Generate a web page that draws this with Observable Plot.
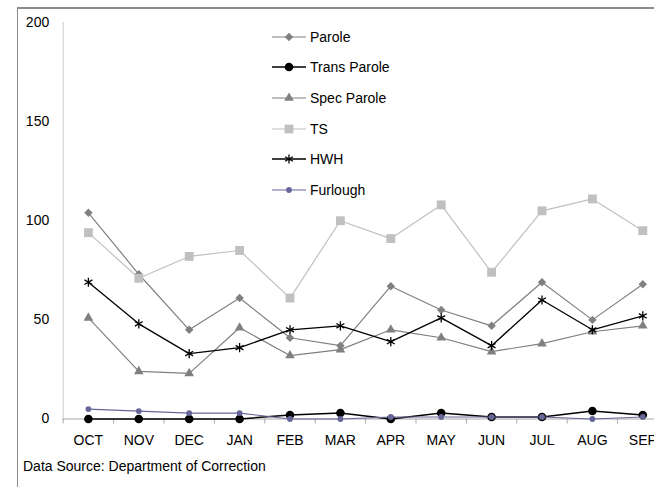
<!DOCTYPE html>
<html><head><meta charset="utf-8">
<script src="https://cdn.jsdelivr.net/npm/d3@7"></script>
<script src="https://cdn.jsdelivr.net/npm/@observablehq/plot@0.6"></script>
<style>
html,body{margin:0;padding:0;background:#fff;}
#wrap{position:relative;width:654px;height:487px;overflow:hidden;font-family:"Liberation Sans",Arial,sans-serif;color:#000;}
#frame{position:absolute;left:17px;top:7px;width:700px;height:600px;border-left:1.5px solid #8a8a8a;border-top:2px solid #8a8a8a;}
#chart{position:absolute;left:0;top:0;width:700px;height:450px;}
#chart svg{max-width:none !important;width:700px !important;height:450px !important;}
#legend{position:absolute;left:272px;top:0;width:160px;height:200px;}
.item{position:absolute;left:0;height:18px;display:flex;align-items:center;font-size:14px;white-space:nowrap;}
.item svg{display:block;margin-right:4px;}
#caption{position:absolute;left:23px;top:458px;font-size:14px;white-space:nowrap;}
</style></head>
<body>
<div id="wrap">
  <div id="frame"></div>
  <div id="chart"></div>
  <div id="legend"></div>
  <div id="caption">Data Source: Department of Correction</div>
</div>
<script>
const months = ["OCT","NOV","DEC","JAN","FEB","MAR","APR","MAY","JUN","JUL","AUG","SEP"];
const parole      = [104, 73, 45, 61, 41, 37, 67, 55, 47, 69, 50, 68];
const transParole = [0, 0, 0, 0, 2, 3, 0, 3, 1, 1, 4, 2];
const specParole  = [51, 24, 23, 46, 32, 35, 45, 41, 34, 38, 44, 47];
const ts          = [94, 71, 82, 85, 61, 100, 91, 108, 74, 105, 111, 95];
const hwh         = [69, 48, 33, 36, 45, 47, 39, 51, 37, 60, 45, 52];
const furlough    = [5, 4, 3, 3, 0, 0, 1, 1, 1, 1, 0, 1];
const yTicks = [0, 50, 100, 150, 200];

const seriesNames = ["Parole","Trans Parole","Spec Parole","TS","HWH","Furlough"];
const seriesValues = [parole, transParole, specParole, ts, hwh, furlough];
const seriesColors = ["#808080","#000000","#808080","#c0c0c0","#000000","#666699"];
const seriesSymbols = ["diamond2","circle","triangle2","square","asterisk","circle"];
const seriesR = [3.8, 4.3, 4.6, 5, 4.3, 2.9];
const seriesLineW = [1.2, 1.5, 1.2, 1.2, 1.3, 1.2];

const idx = months.map((m, i) => i);
const boundaries = d3.range(months.length + 1).map(i => i - 0.5);

const marks = [
  Plot.ruleX([boundaries[0]], {stroke: "#cccccc", strokeWidth: 1}),
  Plot.ruleY([0], {stroke: "#a8a8a8", strokeWidth: 1}),
  Plot.axisY(yTicks, {tickSize: 0, tickPadding: 14, label: null, fill: "#000"}),
  Plot.axisX(boundaries, {tickSize: 5, tickFormat: () => "", stroke: "#a8a8a8", label: null}),
  Plot.axisX(idx, {tickSize: 0, tickPadding: 16, tickFormat: i => months[i], label: null, fill: "#000"})
];
seriesNames.forEach((name, s) => {
  const data = months.map((m, i) => ({i, v: seriesValues[s][i], series: name}));
  marks.push(Plot.lineY(data, {x: "i", y: "v", stroke: seriesColors[s], strokeWidth: seriesLineW[s]}));
  const isStroke = seriesSymbols[s] === "asterisk";
  marks.push(Plot.dot(data, {
    x: "i", y: "v", symbol: seriesSymbols[s], r: seriesR[s],
    fill: isStroke ? "none" : seriesColors[s],
    stroke: isStroke ? seriesColors[s] : "none",
    strokeWidth: isStroke ? 1.3 : 0
  }));
});

const chart = Plot.plot({
  width: 700, height: 450,
  marginLeft: 62.7, marginRight: 32.5, marginTop: 22, marginBottom: 31.5,
  x: {domain: [boundaries[0], boundaries[boundaries.length - 1]], label: null},
  y: {domain: [yTicks[0], yTicks[yTicks.length - 1]], label: null},
  style: {fontFamily: "'Liberation Sans', Arial, sans-serif", fontSize: "14px", color: "#000", background: "transparent", overflow: "visible", maxWidth: "none"},
  marks
});
document.getElementById("chart").appendChild(chart);

// legend
const legend = d3.select("#legend");
const symMap = {diamond2: d3.symbolDiamond2, circle: d3.symbolCircle, triangle2: d3.symbolTriangle2, square: d3.symbolSquare, asterisk: d3.symbolAsterisk};
seriesNames.forEach((name, s) => {
  const item = legend.append("div").attr("class", "item").style("top", (27.5 + 30.7 * s) + "px");
  const svg = item.append("svg").attr("width", 34).attr("height", 18);
  svg.append("line").attr("x1", 0).attr("x2", 34).attr("y1", 9).attr("y2", 9)
    .attr("stroke", seriesColors[s]).attr("stroke-width", seriesLineW[s]);
  const isStroke = seriesSymbols[s] === "asterisk";
  svg.append("path").attr("transform", "translate(17,9)")
    .attr("d", d3.symbol(symMap[seriesSymbols[s]], Math.PI * seriesR[s] * seriesR[s])())
    .attr("fill", isStroke ? "none" : seriesColors[s])
    .attr("stroke", isStroke ? seriesColors[s] : "none")
    .attr("stroke-width", isStroke ? 1.3 : 0);
  item.append("span").text(name);
});
</script>
</body></html>
